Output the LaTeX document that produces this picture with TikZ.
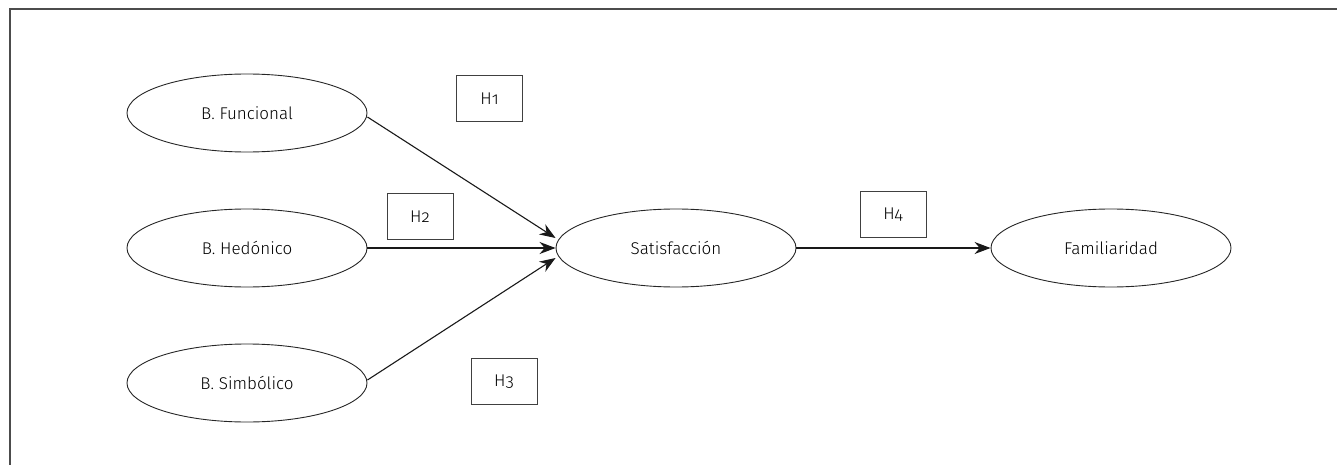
\documentclass[tikz,border=0pt]{standalone}
\usepackage{fontspec}
\setmainfont{Fira Sans Light}[Numbers=OldStyle]
\usetikzlibrary{arrows.meta,shapes.geometric}
\begin{document}
\begin{tikzpicture}[x=1pt,y=-1pt,
  latent/.style={draw=black!85,line width=0.9pt,ellipse,minimum width=240pt,minimum height=78pt,inner sep=0pt,font=\fontsize{17}{20}\selectfont},
  hbox/.style={draw=black!75,line width=0.9pt,rectangle,minimum width=66pt,minimum height=46pt,inner sep=0pt,font=\fontsize{17}{20}\selectfont},
  arr/.style={draw=black!90,line width=1.1pt,-{Stealth[length=16pt,width=12pt]}}]
\useasboundingbox (0,0) rectangle (1337,465);
\draw[black!70,line width=2pt] (10,465) -- (10,9) -- (1337,9);
\node[latent] (fun) at (247,113) {B. Funcional};
\node[latent] (hed) at (247,248) {B. Hedónico};
\node[latent] (sim) at (247,383) {B. Simbólico};
\node[latent] (sat) at (676,248) {Satisfacción};
\node[latent] (fam) at (1111,248) {Familiaridad};
\node[hbox] (h1) at (489.5,98.5) {H1};
\node[hbox] (h2) at (420,216.5) {H2};
\node[hbox] (h3) at (504,381.5) {H3};
\node[hbox] (h4) at (893,214.5) {H4};
\draw[arr] ([yshift=-4pt]fun.east) -- ([yshift=10pt]sat.west);
\draw[arr] (hed.east) -- (sat.west);
\draw[arr] ([yshift=3pt]sim.east) -- ([yshift=-10pt]sat.west);
\draw[arr] (sat.east) -- (fam.west);
\end{tikzpicture}
\end{document}
